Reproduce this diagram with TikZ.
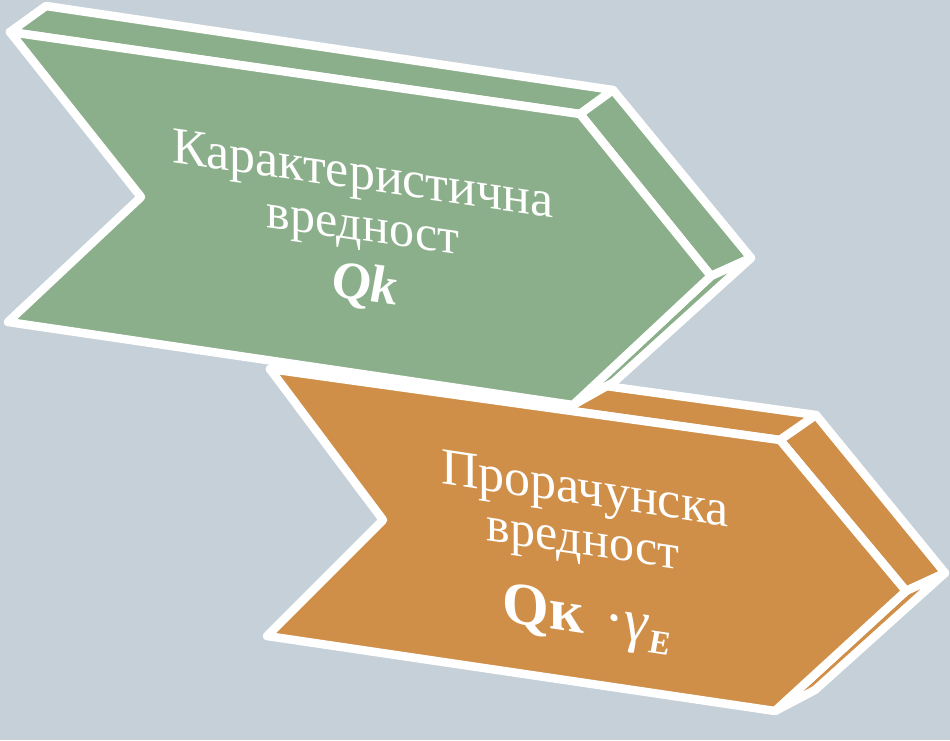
\documentclass[tikz,border=0pt]{standalone}
\usepackage{fontspec}
\setmainfont{Liberation Serif}
\definecolor{bg}{RGB}{197,208,216}
\definecolor{grn}{RGB}{139,175,138}
\definecolor{org}{RGB}{208,143,72}
\tikzset{
  face/.style={fill=#1, draw=white, line width=8.5pt, line join=round},
  lbl/.style={text=white, anchor=base, inner sep=0pt, font=\fontsize{50}{60}\selectfont},
}
\begin{document}
\begin{tikzpicture}[x=1pt,y=-1pt]
\useasboundingbox (0,0) rectangle (950,740);
\fill[bg] (0,0) rectangle (950,740);
% orange chevron
\coordinate (oF1) at (270,369); \coordinate (oF2) at (780,440);
\coordinate (oF3) at (906,591); \coordinate (oF4) at (775,711);
\coordinate (oF5) at (267,636); \coordinate (oF6) at (383,520);
\coordinate (oB1) at (309,345); \coordinate (oB2) at (816,415);
\coordinate (oB3) at (945,573); \coordinate (oB4) at (815,690);
\draw[face=org] (oF1) -- (oF2) -- (oB2) -- (oB1) -- cycle;
\draw[face=org] (oF2) -- (oF3) -- (oB3) -- (oB2) -- cycle;
\draw[face=org] (oF3) -- (oF4) -- (oB4) -- (oB3) -- cycle;
\draw[face=org] (oF1) -- (oF2) -- (oF3) -- (oF4) -- (oF5) -- (oF6) -- cycle;
% green chevron
\coordinate (gF1) at (10,32); \coordinate (gF2) at (580,114);
\coordinate (gF3) at (711,276); \coordinate (gF4) at (573,405);
\coordinate (gF5) at (8,322); \coordinate (gF6) at (141,197);
\coordinate (gB1) at (46,6); \coordinate (gB2) at (613,90);
\coordinate (gB3) at (751,258); \coordinate (gB4) at (614,382);
\draw[face=grn] (gF1) -- (gF2) -- (gB2) -- (gB1) -- cycle;
\draw[face=grn] (gF2) -- (gF3) -- (gB3) -- (gB2) -- cycle;
\draw[face=grn] (gF3) -- (gF4) -- (gB4) -- (gB3) -- cycle;
\draw[face=grn] (gF1) -- (gF2) -- (gF3) -- (gF4) -- (gF5) -- (gF6) -- cycle;
% texts
\node[lbl, yslant=-0.145, transform shape, font=\fontsize{52}{60}\selectfont] (g1) at (363,190) {Карактеристична};
\node[lbl, yslant=-0.145, transform shape] (g2) at (363,241) {вредност};
\node[lbl, yslant=-0.145, transform shape, font=\fontsize{54}{60}\selectfont\bfseries\itshape] (g3) at (365,301) {Qk};
\node[lbl, yslant=-0.15, transform shape, font=\fontsize{52}{60}\selectfont] (o1) at (585,505) {Прорачунска};
\node[lbl, yslant=-0.15, transform shape] (o2) at (583,555) {вредност};
\node[lbl, yslant=-0.15, transform shape, font=\fontsize{60}{70}\selectfont] (o3) at (587,634)
  {{\bfseries Qк}\hspace{0.35em}·{\itshape γ}\raisebox{-0.15em}{\fontsize{34}{34}\selectfont\bfseries\itshape E}};
\end{tikzpicture}
\end{document}
